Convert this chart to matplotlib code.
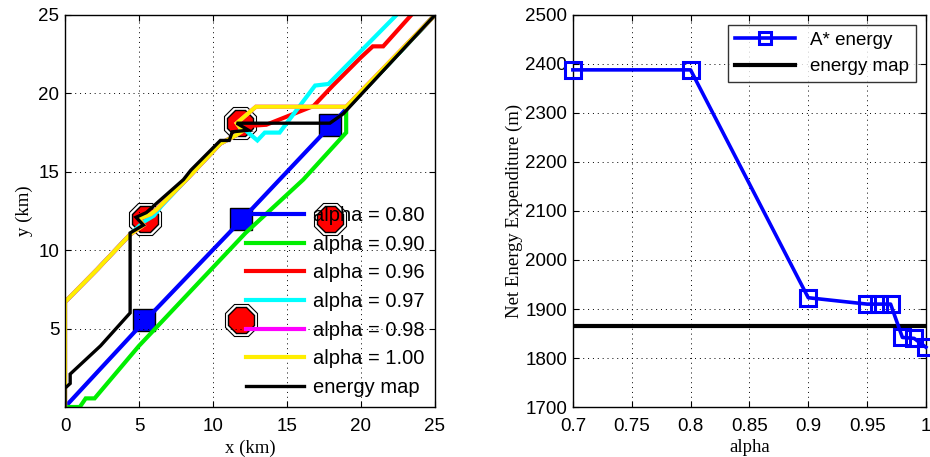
import matplotlib
matplotlib.use("Agg")
import matplotlib.pyplot as plt

# ---- left panel: paths for each alpha (km)
blue_x = [0, 5.4, 12.0, 18.0, 18.8, 25]
blue_y = [0, 5.5, 12.0, 18.0, 18.8, 25]

green_x = [0, 1.0, 1.4, 2.0, 5.0, 12.2, 16.1, 19.0, 19.0, 25]
green_y = [0, 0.0, 0.55, 0.55, 3.9, 11.1, 14.5, 17.5, 19.0, 25]

red_x = [0, 0, 2.2, 4.4, 5.3, 5.0, 5.8, 6.2, 8.3, 10.5, 11.5, 12.0, 13.6, 16.8, 18.1, 20.0, 20.8, 21.5, 23.4]
red_y = [0, 6.7, 8.8, 11.0, 11.6, 12.0, 12.3, 12.6, 14.6, 16.8, 17.3, 17.9, 18.0, 19.2, 20.5, 22.3, 23.0, 23.0, 25]

cyan_x = [0, 0, 2.2, 4.4, 5.3, 6.0, 6.5, 8.3, 10.5, 11.5, 12.0, 12.5, 13.0, 13.5, 14.5, 16.9, 17.8, 22.4]
cyan_y = [0, 6.7, 8.8, 11.0, 11.8, 12.2, 12.8, 14.6, 16.8, 17.3, 17.8, 17.4, 17.0, 17.5, 17.5, 20.5, 20.6, 25]

magenta_x = [0, 0, 2.2, 4.4, 5.3, 5.0, 5.8, 6.2, 8.3, 10.5, 11.5, 12.0, 11.6, 12.9, 19.0, 25]
magenta_y = [0, 6.7, 8.8, 11.0, 11.6, 12.0, 12.3, 12.6, 14.6, 16.8, 17.3, 17.6, 18.1, 19.15, 19.15, 25]

yellow_x = [0, 0, 2.2, 4.4, 5.3, 5.0, 5.8, 6.2, 8.3, 10.5, 11.5, 12.0, 11.6, 12.9, 19.0, 25]
yellow_y = [0, 6.7, 8.8, 11.0, 11.6, 12.0, 12.3, 12.6, 14.6, 16.8, 17.3, 17.6, 18.1, 19.15, 19.15, 25]

emap_x = [0, 0, 0.35, 0.35, 2.4, 4.4, 4.4, 5.3, 4.8, 5.5, 6.2, 8.0, 8.5, 10.5, 11.1, 11.3, 12.4, 11.6, 17.9, 18.8, 25]
emap_y = [0, 1.2, 1.5, 2.1, 3.9, 6.0, 11.1, 11.6, 12.1, 12.4, 13.0, 14.5, 15.1, 17.0, 17.0, 17.55, 17.65, 18.1, 18.1, 18.7, 25]

square_x = [5.35, 11.9, 17.9]
square_y = [5.55, 12.0, 18.0]
octagon_x = [5.4, 11.8, 17.9, 11.9]
octagon_y = [12.0, 18.1, 12.0, 5.55]

path_labels = ["alpha = 0.80", "alpha = 0.90", "alpha = 0.96", "alpha = 0.97",
               "alpha = 0.98", "alpha = 1.00", "energy map"]

# ---- right panel
alpha = [0.70, 0.80, 0.90, 0.95, 0.96, 0.97, 0.98, 0.99, 1.00]
astar_energy = [2388, 2388, 1923, 1910, 1910, 1910, 1842, 1840, 1822]
energy_map_value = 1866

sans = "Liberation Sans"
serif = "Liberation Serif"

fig = plt.figure(figsize=(9.3, 4.57), dpi=100)
ax1 = fig.add_axes([0.0699, 0.1094, 0.3978, 0.8578])
ax2 = fig.add_axes([0.616, 0.1094, 0.3796, 0.8578])

# markers under the paths
ax1.plot(octagon_x, octagon_y, ls="none", marker="8", ms=25, mfc="white",
         mec="black", mew=0.8, zorder=1)
ax1.plot(octagon_x, octagon_y, ls="none", marker="8", ms=20, mfc="red",
         mec="black", mew=1.0, zorder=1.1)
ax1.plot(square_x, square_y, ls="none", marker="s", ms=16, mfc="blue",
         mec="black", mew=1.0, zorder=1.2)

paths = [(blue_x, blue_y, "blue"), (green_x, green_y, "#00ee00"),
         (red_x, red_y, "red"), (cyan_x, cyan_y, "cyan"),
         (magenta_x, magenta_y, "magenta"), (yellow_x, yellow_y, "#ffee00"),
         (emap_x, emap_y, "black")]
for (px, py, c), lab in zip(paths, path_labels):
    lw = 2.4 if c == "black" else 3.0
    ax1.plot(px, py, color=c, lw=lw, label=lab, zorder=2,
             solid_joinstyle="miter")

ax1.set_xlim(0, 25)
ax1.set_ylim(0, 25)
ax1.set_xticks([0, 5, 10, 15, 20, 25])
ax1.set_yticks([5, 10, 15, 20, 25])
ax1.set_xlabel("x (km)", family=serif, fontsize=13.5, labelpad=3)
ax1.set_ylabel("y (km)", family=serif, fontsize=13.5, labelpad=4)
ax1.legend(loc="lower right", frameon=False, handlelength=2.9,
           handletextpad=0.45, labelspacing=0.48, borderaxespad=0.1,
           prop={"family": sans, "size": 14.5})

ax2.plot(alpha, astar_energy, color="blue", lw=2.6, marker="s", ms=11,
         mfc="none", mec="blue", mew=2.2, label="A* energy", clip_on=False, zorder=3)
ax2.axhline(energy_map_value, color="black", lw=3, label="energy map", zorder=2)
ax2.set_xlim(0.7, 1.0)
ax2.set_ylim(1700, 2500)
ax2.set_xticks([0.7, 0.75, 0.8, 0.85, 0.9, 0.95, 1.0])
ax2.set_xticklabels(["0.7", "0.75", "0.8", "0.85", "0.9", "0.95", "1"])
ax2.set_yticks(range(1700, 2501, 100))
ax2.set_xlabel("alpha", family=serif, fontsize=13.5, labelpad=3)
ax2.set_ylabel("Net Energy Expenditure (m)", family=serif, fontsize=13.5, labelpad=2)
leg = ax2.legend(loc="upper right", fancybox=False, handlelength=3.2,
                 borderaxespad=0.55, labelspacing=0.5, borderpad=0.35,
                 markerscale=0.75, prop={"family": sans, "size": 13.5})
leg.get_frame().set_edgecolor("black")
leg.get_frame().set_linewidth(1.0)

for ax in (ax1, ax2):
    ax.grid(True, color="black", ls=(0, (1, 4)), lw=0.7)
    ax.tick_params(direction="in", top=True, right=True, labelsize=13.5,
                   length=4)
    ax.tick_params(axis="x", pad=8)
    ax.tick_params(axis="y", pad=4)
    for t in ax.get_xticklabels() + ax.get_yticklabels():
        t.set_family(sans)
    for s in ax.spines.values():
        s.set_linewidth(1.0)

fig.savefig("out.png", dpi=100)
